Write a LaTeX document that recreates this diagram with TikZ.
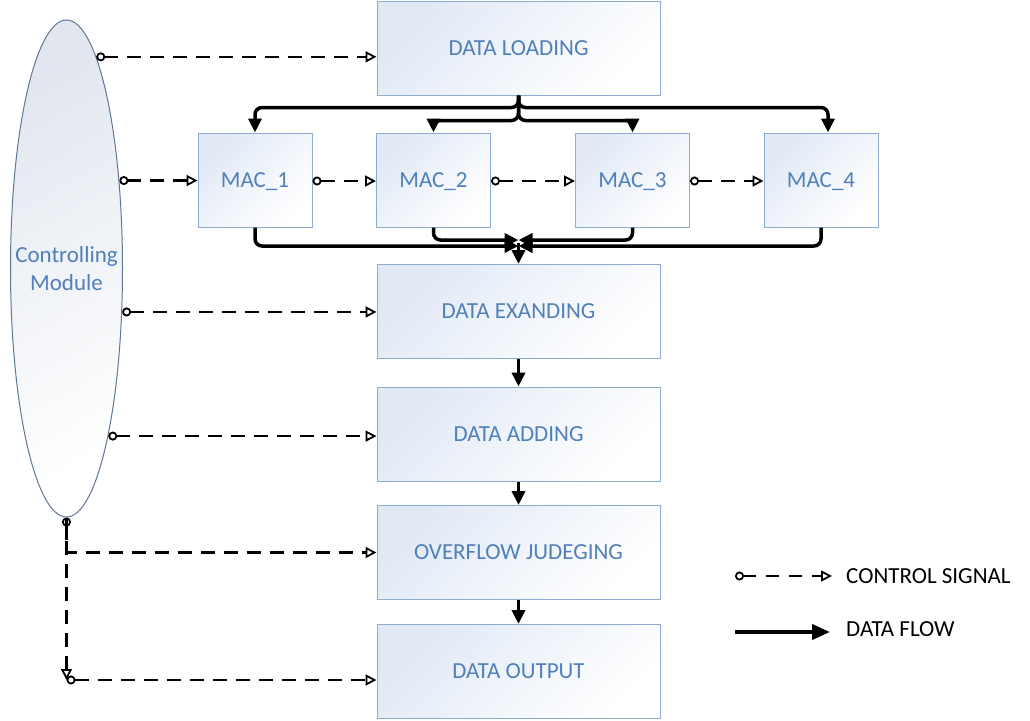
\documentclass[tikz,border=0pt]{standalone}
\usepackage{fontspec}
\setmainfont{Carlito}
\usetikzlibrary{arrows.meta,shapes.geometric,calc}
\definecolor{boxtext}{RGB}{80,128,185}
\definecolor{boxline}{RGB}{140,172,210}
\definecolor{boxfill}{RGB}{225,233,245}
\definecolor{ellline}{RGB}{95,118,148}
\definecolor{ellfill}{RGB}{226,231,239}
\tikzset{
  box/.style={draw=boxline, line width=1pt, top color=boxfill, bottom color=white, shading angle=45,
    text=boxtext, font=\fontsize{23}{28}\selectfont, inner sep=0pt, text depth=0pt},
  bigbox/.style={box, minimum width=283pt, minimum height=94pt},
  macbox/.style={box, minimum width=114pt, minimum height=94pt},
  ctl/.style={line width=2.2pt, dash pattern=on 14pt off 9pt,
    {Circle[open,length=9pt,line width=1.8pt]}-{Triangle[open,length=11pt,width=11pt,line width=1.8pt]}},
  ctlend/.style={line width=2.2pt, dash pattern=on 14pt off 9pt,
    -{Triangle[open,length=11pt,width=11pt,line width=1.8pt]}},
  flow/.style={line width=3.5pt, rounded corners=7pt, -{Triangle[length=14pt,width=13pt]}},
  legtext/.style={font=\fontsize{23}{28}\selectfont, text=black, inner sep=0pt, anchor=west}
}
\begin{document}
\begin{tikzpicture}[x=1pt,y=-1pt]
\useasboundingbox[fill=white] (0,0) rectangle (1030,720);

% controlling module
\node[ellipse, draw=ellline, line width=1pt, top color=ellfill, bottom color=white, shading angle=30,
  minimum width=112pt, minimum height=497pt, inner sep=0pt] (ctrl) at (66.5,268.5) {};
\node[text=boxtext, align=center, font=\fontsize{23}{28}\selectfont, inner sep=0pt] (ctrltext) at (ctrl.center) {Controlling\\Module};

% boxes
\node[bigbox] (load) at (518.5,48) {DATA LOADING};
\node[macbox] (mac1) at (255,180) {MAC\_1};
\node[macbox] (mac2) at (433.5,180) {MAC\_2};
\node[macbox] (mac3) at (632.5,180) {MAC\_3};
\node[macbox] (mac4) at (821,180) {MAC\_4};
\node[bigbox] (expand) at (518.5,311.5) {DATA EXANDING};
\node[bigbox] (add) at (518.5,434) {DATA ADDING};
\node[bigbox] (judge) at (518.5,552.5) {OVERFLOW JUDEGING};
\node[bigbox] (out) at (518.5,671.5) {DATA OUTPUT};

% control signals
\draw[ctl] (ctrl.82) -- (ctrl.82 -| load.west);
\draw[ctl] (ctrl.59) -- (ctrl.59 -| mac1.west);
\draw[ctl] ([yshift=-1pt]mac1.east) -- ([yshift=-1pt]mac2.west);
\draw[ctl] ([yshift=-1pt]mac2.east) -- ([yshift=-1pt]mac3.west);
\draw[ctl] ([yshift=-1pt]mac3.east) -- ([yshift=-1pt]mac4.west);
\draw[ctl] (ctrl.-38) -- (ctrl.-38 -| expand.west);
\draw[ctl] (ctrl.-76) -- (ctrl.-76 -| add.west);
\draw[ctl] (ctrl.south) |- (judge.west);
\coordinate (bend) at (66.5,680);
\draw[ctlend] (ctrl.south) -- (bend);
\draw[ctl] (bend) -- (bend -| out.west);

% data flow
\draw[flow] (load.south) -- ++(0,12) -| (mac1.north);
\draw[flow] (load.south) -- ++(0,12) -| ([xshift=7pt]mac4.north);
\draw[flow] (load.south) -- ++(0,25) -| (mac2.north);
\draw[flow] (load.south) -- ++(0,25) -| (mac3.north);

\coordinate (j) at (518.5,243);
\draw[flow] (mac1.south) |- ($(j)+(0,3)$);
\draw[flow] (mac4.south) |- ($(j)+(0,3)$);
\draw[flow] (mac2.south) |- ($(j)+(0,-3)$);
\draw[flow] (mac3.south) |- ($(j)+(0,-3)$);
\draw[flow] (j) -- (expand.north);

\draw[flow] (expand.south) -- (add.north);
\draw[flow] (add.south) -- (judge.north);
\draw[flow] (judge.south) -- (out.north);

% legend
\coordinate (lc1) at (735,576);
\coordinate (lc2) at (832,576);
\draw[ctl, dash pattern=on 13pt off 10pt] (lc1) -- (lc2);
\node[legtext] (lt1) at (846,576) {CONTROL SIGNAL};
\coordinate (lf1) at (735,632);
\coordinate (lf2) at (830,632);
\draw[line width=4pt, -{Triangle[length=18pt,width=15pt]}] (lf1) -- (lf2);
\node[legtext] (lt2) at (846,629) {DATA FLOW};
\end{tikzpicture}
\end{document}
